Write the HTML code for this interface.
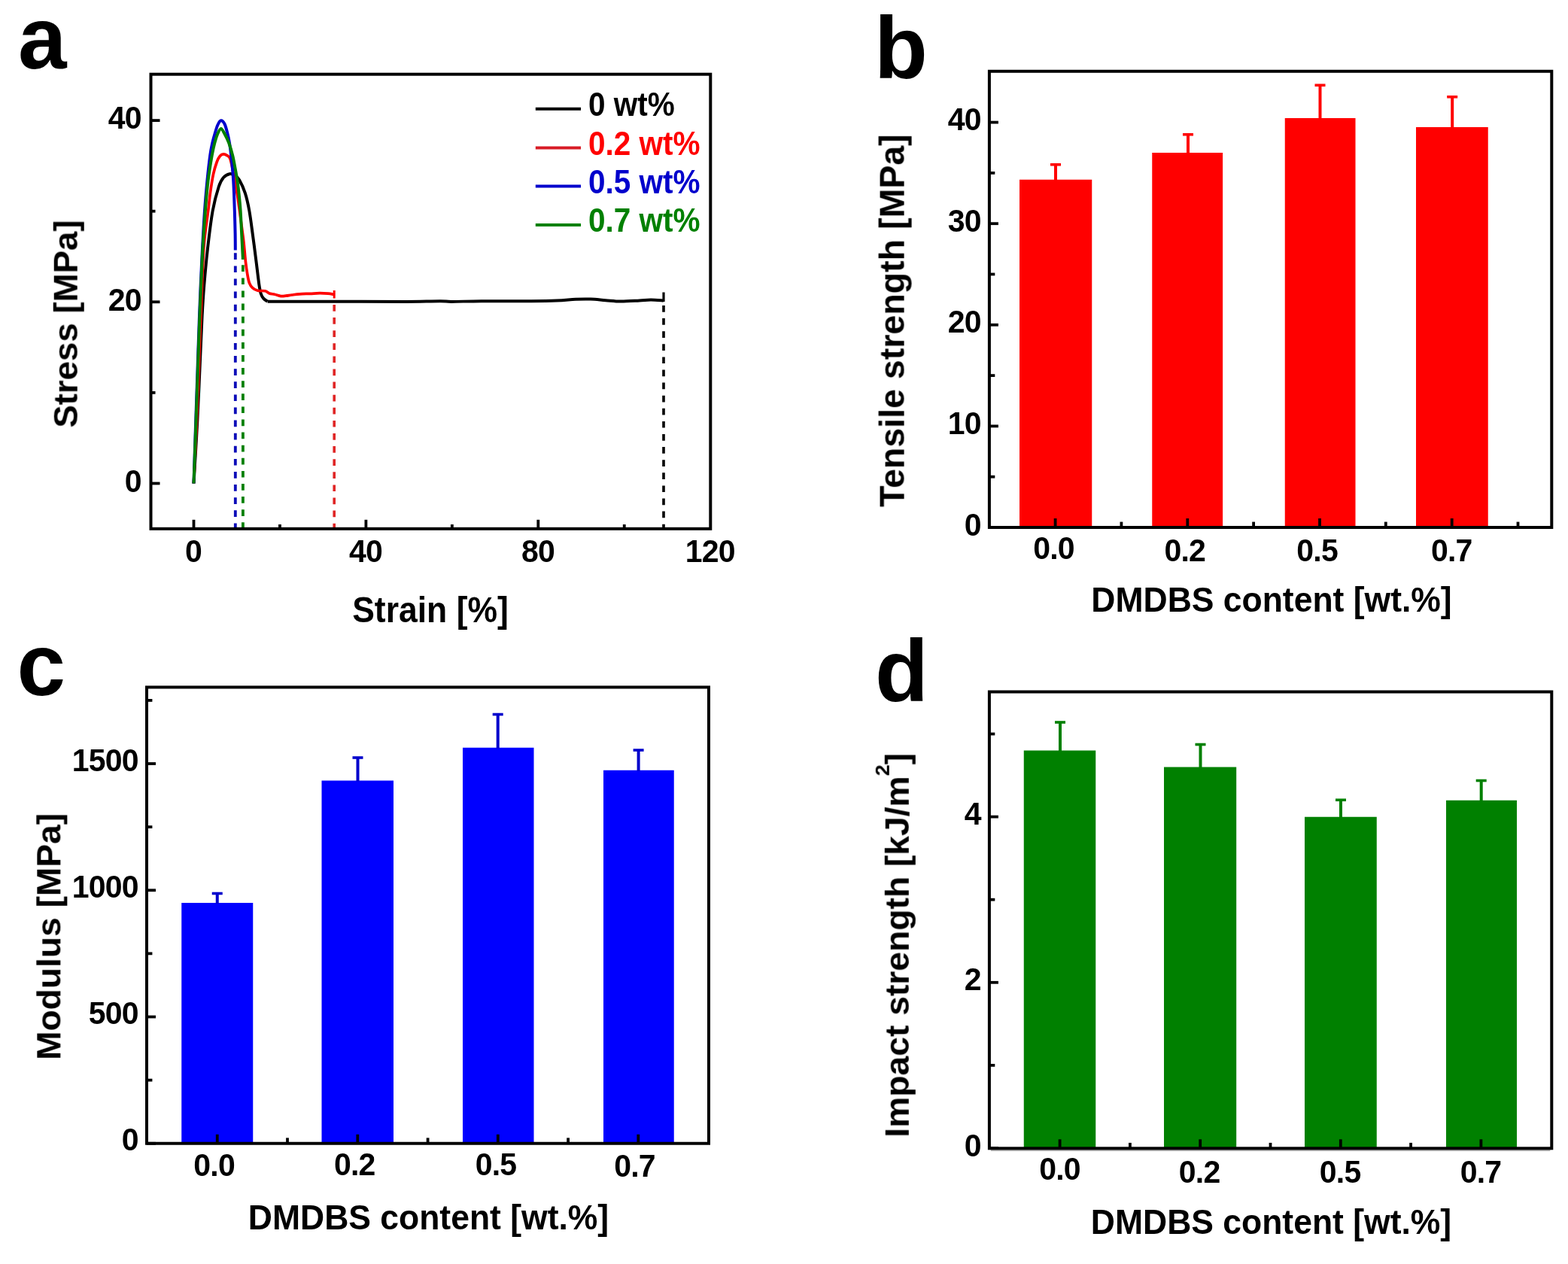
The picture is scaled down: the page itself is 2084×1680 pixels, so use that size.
<!DOCTYPE html>
<html lang="en">
<head>
<meta charset="utf-8">
<title>Mechanical properties vs DMDBS content</title>
<style>
html, body { margin: 0; padding: 0; background: #ffffff; }
body { width: 2084px; height: 1680px; }
svg { display: block; }
svg text { font-family: "Liberation Sans", sans-serif; font-weight: 700; }
</style>
</head>
<body>
<svg width="2084" height="1680" viewBox="0 0 2084 1680" role="img" aria-label="Mechanical properties versus DMDBS content">
<defs>
<filter id="soft" x="0" y="0" width="2084" height="1680" filterUnits="userSpaceOnUse">
<feGaussianBlur stdDeviation="0.55"/>
</filter>
</defs>
<rect x="0" y="0" width="2084" height="1680" fill="#ffffff"/>
<g filter="url(#soft)">
<line x1="200.50" y1="642.50" x2="212.50" y2="642.50" stroke="#000" stroke-width="3.8" />
<text transform="translate(187.70,653.80) scale(1.0,1.045)" font-size="41" text-anchor="end" fill="#000" letter-spacing="-0.8">0</text>
<line x1="200.50" y1="401.30" x2="212.50" y2="401.30" stroke="#000" stroke-width="3.8" />
<text transform="translate(187.70,412.60) scale(1.0,1.045)" font-size="41" text-anchor="end" fill="#000" letter-spacing="-0.8">20</text>
<line x1="200.50" y1="160.10" x2="212.50" y2="160.10" stroke="#000" stroke-width="3.8" />
<text transform="translate(187.70,171.40) scale(1.0,1.045)" font-size="41" text-anchor="end" fill="#000" letter-spacing="-0.8">40</text>
<line x1="200.50" y1="521.90" x2="206.50" y2="521.90" stroke="#000" stroke-width="3.8" />
<line x1="200.50" y1="280.70" x2="206.50" y2="280.70" stroke="#000" stroke-width="3.8" />
<line x1="257.50" y1="702.80" x2="257.50" y2="690.80" stroke="#000" stroke-width="3.8" />
<text transform="translate(257.10,747.40) scale(1.0,1.045)" font-size="41" text-anchor="middle" fill="#000" letter-spacing="-0.8">0</text>
<line x1="486.40" y1="702.80" x2="486.40" y2="690.80" stroke="#000" stroke-width="3.8" />
<text transform="translate(486.00,747.40) scale(1.0,1.045)" font-size="41" text-anchor="middle" fill="#000" letter-spacing="-0.8">40</text>
<line x1="715.30" y1="702.80" x2="715.30" y2="690.80" stroke="#000" stroke-width="3.8" />
<text transform="translate(714.90,747.40) scale(1.0,1.045)" font-size="41" text-anchor="middle" fill="#000" letter-spacing="-0.8">80</text>
<text transform="translate(943.80,747.40) scale(1.0,1.045)" font-size="41" text-anchor="middle" fill="#000" letter-spacing="-0.8">120</text>
<line x1="371.95" y1="702.80" x2="371.95" y2="697.00" stroke="#000" stroke-width="3.8" />
<line x1="600.85" y1="702.80" x2="600.85" y2="697.00" stroke="#000" stroke-width="3.8" />
<line x1="829.75" y1="702.80" x2="829.75" y2="697.00" stroke="#000" stroke-width="3.8" />
<line x1="312.80" y1="336.30" x2="312.80" y2="702.80" stroke="#0808b8" stroke-width="3.8" stroke-dasharray="8.7 8.4"/>
<line x1="322.90" y1="352.30" x2="322.90" y2="702.80" stroke="#008000" stroke-width="3.8" stroke-dasharray="8.7 8.4"/>
<line x1="444.20" y1="405.00" x2="444.20" y2="702.80" stroke="#e02828" stroke-width="3.6" stroke-dasharray="8.7 8.4"/>
<line x1="882.00" y1="406.00" x2="882.00" y2="702.80" stroke="#000" stroke-width="3.6" stroke-dasharray="8.7 8.4"/>
<path d="M257.50,642.50 C258.30,628.75 260.97,585.42 262.30,560.00 C263.63,534.58 264.45,513.33 265.50,490.00 C266.55,466.67 267.65,438.33 268.60,420.00 C269.55,401.67 269.97,395.00 271.20,380.00 C272.43,365.00 274.08,346.67 276.00,330.00 C277.92,313.33 280.23,293.67 282.70,280.00 C285.17,266.33 288.42,255.33 290.80,248.00 C293.18,240.67 294.63,238.80 297.00,236.00 C299.37,233.20 302.50,231.70 305.00,231.20 C307.50,230.70 309.83,231.70 312.00,233.00 C314.17,234.30 315.70,235.05 318.00,239.00 C320.30,242.95 323.58,249.87 325.80,256.70 C328.02,263.53 329.60,270.62 331.30,280.00 C333.00,289.38 334.48,301.88 336.00,313.00 C337.52,324.12 339.02,335.87 340.40,346.70 C341.78,357.53 343.23,370.70 344.30,378.00 C345.37,385.30 345.82,387.40 346.80,390.50 C347.78,393.60 348.73,394.90 350.20,396.60 C351.67,398.30 354.70,400.02 355.60,400.70" fill="none" stroke="#000" stroke-width="4" stroke-linejoin="round"/>
<path d="M355.60,400.70 C363.00,400.72 379.27,400.78 400.00,400.80 C420.73,400.82 456.67,400.78 480.00,400.80 C503.33,400.82 522.50,401.00 540.00,400.90 C557.50,400.80 575.00,400.20 585.00,400.20 C595.00,400.20 590.83,400.90 600.00,400.90 C609.17,400.90 623.33,400.30 640.00,400.20 C656.67,400.10 683.33,400.40 700.00,400.30 C716.67,400.20 729.17,400.02 740.00,399.60 C750.83,399.18 757.50,398.13 765.00,397.80 C772.50,397.47 778.33,397.37 785.00,397.60 C791.67,397.83 798.33,398.70 805.00,399.20 C811.67,399.70 817.50,400.55 825.00,400.60 C832.50,400.65 843.33,399.83 850.00,399.50 C856.67,399.17 859.67,398.60 865.00,398.60 C870.33,398.60 879.17,399.35 882.00,399.50" fill="none" stroke="#000" stroke-width="4" stroke-linejoin="round"/>
<line x1="882.00" y1="388.50" x2="882.00" y2="401.00" stroke="#000" stroke-width="3.2" />
<path d="M257.50,642.50 C258.17,628.75 260.37,585.42 261.50,560.00 C262.63,534.58 263.40,513.33 264.30,490.00 C265.20,466.67 265.82,446.67 266.90,420.00 C267.98,393.33 269.17,353.33 270.80,330.00 C272.43,306.67 275.27,292.22 276.70,280.00 C278.13,267.78 278.27,264.75 279.40,256.70 C280.53,248.65 282.02,238.65 283.50,231.70 C284.98,224.75 286.80,219.08 288.30,215.00 C289.80,210.92 291.05,208.90 292.50,207.20 C293.95,205.50 295.42,204.87 297.00,204.80 C298.58,204.73 300.50,205.68 302.00,206.80 C303.50,207.92 304.57,207.30 306.00,211.50 C307.43,215.70 309.00,223.92 310.60,232.00 C312.20,240.08 313.97,249.50 315.60,260.00 C317.23,270.50 319.02,284.72 320.40,295.00 C321.78,305.28 322.92,313.08 323.90,321.70 C324.88,330.32 325.52,339.77 326.30,346.70 C327.08,353.63 327.77,358.45 328.60,363.30 C329.43,368.15 330.12,372.58 331.30,375.80 C332.48,379.02 333.83,380.87 335.70,382.60 C337.57,384.33 339.70,385.50 342.50,386.20 C345.30,386.90 349.92,386.17 352.50,386.80 C355.08,387.43 355.92,389.25 358.00,390.00 C360.08,390.75 362.45,390.70 365.00,391.30 C367.55,391.90 370.80,393.28 373.30,393.60 C375.80,393.92 377.55,393.47 380.00,393.20 C382.45,392.93 384.95,392.40 388.00,392.00 C391.05,391.60 394.30,391.08 398.30,390.80 C402.30,390.52 407.55,390.48 412.00,390.30 C416.45,390.12 421.00,389.72 425.00,389.70 C429.00,389.68 432.83,389.93 436.00,390.20 C439.17,390.47 442.67,391.12 444.00,391.30" fill="none" stroke="#ff0000" stroke-width="3.7" stroke-linejoin="round"/>
<line x1="444.20" y1="386.00" x2="444.20" y2="396.50" stroke="#ff0000" stroke-width="3.0" />
<path d="M257.50,642.50 C257.95,628.75 259.35,585.42 260.20,560.00 C261.05,534.58 261.80,513.33 262.60,490.00 C263.40,466.67 264.02,445.00 265.00,420.00 C265.98,395.00 267.33,363.33 268.50,340.00 C269.67,316.67 270.85,296.67 272.00,280.00 C273.15,263.33 274.20,252.22 275.40,240.00 C276.60,227.78 278.05,215.03 279.20,206.70 C280.35,198.37 281.23,194.87 282.30,190.00 C283.37,185.13 284.42,181.50 285.60,177.50 C286.78,173.50 288.04,168.87 289.40,166.00 C290.76,163.13 292.22,160.47 293.75,160.30 C295.28,160.13 297.16,162.13 298.60,165.00 C300.04,167.87 301.33,173.33 302.40,177.50 C303.47,181.67 304.20,185.13 305.00,190.00 C305.80,194.87 306.55,201.15 307.20,206.70 C307.85,212.25 308.40,217.75 308.90,223.30 C309.40,228.85 309.85,234.43 310.20,240.00 C310.55,245.57 310.73,250.03 311.00,256.70 C311.27,263.37 311.53,271.12 311.80,280.00 C312.07,288.88 312.43,301.25 312.60,310.00 C312.77,318.75 312.77,328.75 312.80,332.50" fill="none" stroke="#0000cc" stroke-width="4" stroke-linejoin="round"/>
<path d="M257.50,642.50 C258.00,628.75 259.60,585.42 260.50,560.00 C261.40,534.58 262.08,513.33 262.90,490.00 C263.72,466.67 264.40,445.00 265.40,420.00 C266.40,395.00 267.65,363.33 268.90,340.00 C270.15,316.67 271.62,296.67 272.90,280.00 C274.18,263.33 275.13,252.22 276.60,240.00 C278.07,227.78 280.25,215.03 281.70,206.70 C283.15,198.37 284.02,194.87 285.30,190.00 C286.58,185.13 287.99,180.67 289.40,177.50 C290.81,174.33 292.27,171.00 293.75,171.00 C295.23,171.00 296.56,174.33 298.30,177.50 C300.04,180.67 302.38,185.13 304.20,190.00 C306.02,194.87 307.82,201.15 309.20,206.70 C310.58,212.25 311.47,217.75 312.50,223.30 C313.53,228.85 314.57,234.43 315.40,240.00 C316.23,245.57 316.80,250.03 317.50,256.70 C318.20,263.37 318.97,270.57 319.60,280.00 C320.23,289.43 320.75,302.47 321.30,313.30 C321.85,324.13 322.63,339.72 322.90,345.00" fill="none" stroke="#008000" stroke-width="4" stroke-linejoin="round"/>
<rect x="200.50" y="98.70" width="743.80" height="604.10" fill="none" stroke="#000" stroke-width="4.0"/>
<line x1="711.80" y1="144.80" x2="772.00" y2="144.80" stroke="#000" stroke-width="4.0" />
<text transform="translate(782.00,154.00) scale(1.0,1.095)" font-size="40.5" text-anchor="start" fill="#000">0 wt%</text>
<line x1="711.80" y1="196.50" x2="772.00" y2="196.50" stroke="#d81e28" stroke-width="4.0" />
<text transform="translate(782.00,206.30) scale(1.0,1.095)" font-size="40.5" text-anchor="start" fill="#ff0000">0.2 wt%</text>
<line x1="711.80" y1="247.60" x2="772.00" y2="247.60" stroke="#0000cc" stroke-width="4.0" />
<text transform="translate(782.00,257.00) scale(1.0,1.095)" font-size="40.5" text-anchor="start" fill="#0000cc">0.5 wt%</text>
<line x1="711.80" y1="298.90" x2="772.00" y2="298.90" stroke="#008000" stroke-width="4.0" />
<text transform="translate(782.00,308.30) scale(1.0,1.095)" font-size="40.5" text-anchor="start" fill="#008000">0.7 wt%</text>
<text transform="translate(572.00,827.20) scale(1.0,1.09)" font-size="44.5" text-anchor="middle" fill="#000">Strain [%]</text>
<text transform="translate(102.70,430.60) rotate(-90) scale(1.0,0.975)" font-size="45.6" text-anchor="middle" fill="#000">Stress [MPa]</text>
<text transform="translate(24.00,91.00) scale(1.0,1.0)" font-size="116" text-anchor="start" fill="#000">a</text>
<rect x="1355.00" y="238.75" width="96.25" height="462.25" fill="#ff0000"/>
<line x1="1403.00" y1="239.75" x2="1403.00" y2="218.75" stroke="#ff0000" stroke-width="4.0" />
<line x1="1396.00" y1="218.75" x2="1410.00" y2="218.75" stroke="#ff0000" stroke-width="3.6" />
<rect x="1531.25" y="203.00" width="93.85" height="498.00" fill="#ff0000"/>
<line x1="1579.00" y1="204.00" x2="1579.00" y2="178.75" stroke="#ff0000" stroke-width="4.0" />
<line x1="1572.00" y1="178.75" x2="1586.00" y2="178.75" stroke="#ff0000" stroke-width="3.6" />
<rect x="1707.75" y="157.00" width="93.75" height="544.00" fill="#ff0000"/>
<line x1="1754.50" y1="158.00" x2="1754.50" y2="113.25" stroke="#ff0000" stroke-width="4.0" />
<line x1="1747.50" y1="113.25" x2="1761.50" y2="113.25" stroke="#ff0000" stroke-width="3.6" />
<rect x="1882.00" y="169.00" width="95.75" height="532.00" fill="#ff0000"/>
<line x1="1930.20" y1="170.00" x2="1930.20" y2="128.75" stroke="#ff0000" stroke-width="4.0" />
<line x1="1923.20" y1="128.75" x2="1937.20" y2="128.75" stroke="#ff0000" stroke-width="3.6" />
<line x1="1314.90" y1="701.00" x2="1326.90" y2="701.00" stroke="#000" stroke-width="3.8" />
<text transform="translate(1303.70,711.50) scale(1.0,1.045)" font-size="41" text-anchor="end" fill="#000" letter-spacing="-0.8">0</text>
<line x1="1314.90" y1="566.40" x2="1326.90" y2="566.40" stroke="#000" stroke-width="3.8" />
<text transform="translate(1303.70,576.90) scale(1.0,1.045)" font-size="41" text-anchor="end" fill="#000" letter-spacing="-0.8">10</text>
<line x1="1314.90" y1="431.80" x2="1326.90" y2="431.80" stroke="#000" stroke-width="3.8" />
<text transform="translate(1303.70,442.30) scale(1.0,1.045)" font-size="41" text-anchor="end" fill="#000" letter-spacing="-0.8">20</text>
<line x1="1314.90" y1="297.20" x2="1326.90" y2="297.20" stroke="#000" stroke-width="3.8" />
<text transform="translate(1303.70,307.70) scale(1.0,1.045)" font-size="41" text-anchor="end" fill="#000" letter-spacing="-0.8">30</text>
<line x1="1314.90" y1="162.60" x2="1326.90" y2="162.60" stroke="#000" stroke-width="3.8" />
<text transform="translate(1303.70,173.10) scale(1.0,1.045)" font-size="41" text-anchor="end" fill="#000" letter-spacing="-0.8">40</text>
<line x1="1314.90" y1="633.70" x2="1322.30" y2="633.70" stroke="#000" stroke-width="3.8" />
<line x1="1314.90" y1="499.10" x2="1322.30" y2="499.10" stroke="#000" stroke-width="3.8" />
<line x1="1314.90" y1="364.50" x2="1322.30" y2="364.50" stroke="#000" stroke-width="3.8" />
<line x1="1314.90" y1="229.90" x2="1322.30" y2="229.90" stroke="#000" stroke-width="3.8" />
<line x1="1402.60" y1="701.00" x2="1402.60" y2="689.00" stroke="#000" stroke-width="3.8" />
<text transform="translate(1400.50,743.30) scale(1.0,1.045)" font-size="41" text-anchor="middle" fill="#000" letter-spacing="-0.8">0.0</text>
<line x1="1578.30" y1="701.00" x2="1578.30" y2="689.00" stroke="#000" stroke-width="3.8" />
<text transform="translate(1574.70,745.50) scale(1.0,1.045)" font-size="41" text-anchor="middle" fill="#000" letter-spacing="-0.8">0.2</text>
<line x1="1754.00" y1="701.00" x2="1754.00" y2="689.00" stroke="#000" stroke-width="3.8" />
<text transform="translate(1750.60,745.50) scale(1.0,1.045)" font-size="41" text-anchor="middle" fill="#000" letter-spacing="-0.8">0.5</text>
<line x1="1929.70" y1="701.00" x2="1929.70" y2="689.00" stroke="#000" stroke-width="3.8" />
<text transform="translate(1929.30,745.50) scale(1.0,1.045)" font-size="41" text-anchor="middle" fill="#000" letter-spacing="-0.8">0.7</text>
<line x1="1490.40" y1="701.00" x2="1490.40" y2="693.60" stroke="#000" stroke-width="3.8" />
<line x1="1666.10" y1="701.00" x2="1666.10" y2="693.60" stroke="#000" stroke-width="3.8" />
<line x1="1841.80" y1="701.00" x2="1841.80" y2="693.60" stroke="#000" stroke-width="3.8" />
<line x1="2017.50" y1="701.00" x2="2017.50" y2="693.60" stroke="#000" stroke-width="3.8" />
<rect x="1314.90" y="94.75" width="747.40" height="606.25" fill="none" stroke="#000" stroke-width="4.0"/>
<text transform="translate(1690.00,813.00) scale(1.0,1.04)" font-size="44.5" text-anchor="middle" fill="#000">DMDBS content [wt.%]</text>
<text transform="translate(1201.50,426.20) rotate(-90) scale(1.0,0.975)" font-size="46.55" text-anchor="middle" fill="#000">Tensile strength [MPa]</text>
<text transform="translate(1162.00,103.50) scale(1.0,1.0)" font-size="116" text-anchor="start" fill="#000">b</text>
<rect x="241.25" y="1200.00" width="95.00" height="319.75" fill="#0000ff"/>
<line x1="288.75" y1="1201.00" x2="288.75" y2="1187.50" stroke="#0000cc" stroke-width="4.0" />
<line x1="281.75" y1="1187.50" x2="295.75" y2="1187.50" stroke="#0000cc" stroke-width="3.6" />
<rect x="427.50" y="1037.50" width="95.50" height="482.25" fill="#0000ff"/>
<line x1="475.50" y1="1038.50" x2="475.50" y2="1007.00" stroke="#0000cc" stroke-width="4.0" />
<line x1="468.50" y1="1007.00" x2="482.50" y2="1007.00" stroke="#0000cc" stroke-width="3.6" />
<rect x="615.00" y="993.75" width="94.50" height="526.00" fill="#0000ff"/>
<line x1="661.70" y1="994.75" x2="661.70" y2="949.50" stroke="#0000cc" stroke-width="4.0" />
<line x1="654.70" y1="949.50" x2="668.70" y2="949.50" stroke="#0000cc" stroke-width="3.6" />
<rect x="802.00" y="1023.75" width="93.75" height="496.00" fill="#0000ff"/>
<line x1="848.60" y1="1024.75" x2="848.60" y2="997.00" stroke="#0000cc" stroke-width="4.0" />
<line x1="841.60" y1="997.00" x2="855.60" y2="997.00" stroke="#0000cc" stroke-width="3.6" />
<line x1="195.00" y1="1519.75" x2="207.00" y2="1519.75" stroke="#000" stroke-width="3.8" />
<text transform="translate(183.70,1529.35) scale(1.0,1.045)" font-size="41" text-anchor="end" fill="#000" letter-spacing="-0.8">0</text>
<line x1="195.00" y1="1351.50" x2="207.00" y2="1351.50" stroke="#000" stroke-width="3.8" />
<text transform="translate(183.70,1361.10) scale(1.0,1.045)" font-size="41" text-anchor="end" fill="#000" letter-spacing="-0.8">500</text>
<line x1="195.00" y1="1183.25" x2="207.00" y2="1183.25" stroke="#000" stroke-width="3.8" />
<text transform="translate(183.70,1192.85) scale(1.0,1.045)" font-size="41" text-anchor="end" fill="#000" letter-spacing="-0.8">1000</text>
<line x1="195.00" y1="1015.00" x2="207.00" y2="1015.00" stroke="#000" stroke-width="3.8" />
<text transform="translate(183.70,1024.60) scale(1.0,1.045)" font-size="41" text-anchor="end" fill="#000" letter-spacing="-0.8">1500</text>
<line x1="195.00" y1="1435.62" x2="202.40" y2="1435.62" stroke="#000" stroke-width="3.8" />
<line x1="195.00" y1="1267.38" x2="202.40" y2="1267.38" stroke="#000" stroke-width="3.8" />
<line x1="195.00" y1="1099.12" x2="202.40" y2="1099.12" stroke="#000" stroke-width="3.8" />
<line x1="195.00" y1="930.88" x2="202.40" y2="930.88" stroke="#000" stroke-width="3.8" />
<line x1="288.75" y1="1519.75" x2="288.75" y2="1507.75" stroke="#000" stroke-width="3.8" />
<text transform="translate(284.65,1563.40) scale(1.0,1.045)" font-size="41" text-anchor="middle" fill="#000" letter-spacing="-0.8">0.0</text>
<line x1="475.30" y1="1519.75" x2="475.30" y2="1507.75" stroke="#000" stroke-width="3.8" />
<text transform="translate(471.20,1562.20) scale(1.0,1.045)" font-size="41" text-anchor="middle" fill="#000" letter-spacing="-0.8">0.2</text>
<line x1="661.80" y1="1519.75" x2="661.80" y2="1507.75" stroke="#000" stroke-width="3.8" />
<text transform="translate(659.00,1562.20) scale(1.0,1.045)" font-size="41" text-anchor="middle" fill="#000" letter-spacing="-0.8">0.5</text>
<line x1="848.30" y1="1519.75" x2="848.30" y2="1507.75" stroke="#000" stroke-width="3.8" />
<text transform="translate(843.50,1563.70) scale(1.0,1.045)" font-size="41" text-anchor="middle" fill="#000" letter-spacing="-0.8">0.7</text>
<line x1="382.00" y1="1519.75" x2="382.00" y2="1512.35" stroke="#000" stroke-width="3.8" />
<line x1="568.60" y1="1519.75" x2="568.60" y2="1512.35" stroke="#000" stroke-width="3.8" />
<line x1="755.10" y1="1519.75" x2="755.10" y2="1512.35" stroke="#000" stroke-width="3.8" />
<rect x="195.00" y="913.40" width="747.00" height="606.35" fill="none" stroke="#000" stroke-width="4.0"/>
<text transform="translate(569.50,1634.00) scale(1.0,1.04)" font-size="44.5" text-anchor="middle" fill="#000">DMDBS content [wt.%]</text>
<text transform="translate(80.30,1244.90) rotate(-90) scale(1.0,0.975)" font-size="46.15" text-anchor="middle" fill="#000">Modulus [MPa]</text>
<text transform="translate(22.50,923.50) scale(1.0,1.0)" font-size="116" text-anchor="start" fill="#000">c</text>
<line x1="1316.90" y1="1529.00" x2="2060.30" y2="1529.00" stroke="#9c9c9c" stroke-width="1.6" />
<rect x="1360.75" y="997.50" width="95.50" height="528.80" fill="#008000"/>
<line x1="1409.00" y1="998.50" x2="1409.00" y2="960.00" stroke="#008000" stroke-width="4.0" />
<line x1="1402.00" y1="960.00" x2="1416.00" y2="960.00" stroke="#008000" stroke-width="3.6" />
<rect x="1547.00" y="1019.50" width="96.20" height="506.80" fill="#008000"/>
<line x1="1595.50" y1="1020.50" x2="1595.50" y2="989.50" stroke="#008000" stroke-width="4.0" />
<line x1="1588.50" y1="989.50" x2="1602.50" y2="989.50" stroke="#008000" stroke-width="3.6" />
<rect x="1734.00" y="1085.75" width="95.75" height="440.55" fill="#008000"/>
<line x1="1782.00" y1="1086.75" x2="1782.00" y2="1063.25" stroke="#008000" stroke-width="4.0" />
<line x1="1775.00" y1="1063.25" x2="1789.00" y2="1063.25" stroke="#008000" stroke-width="3.6" />
<rect x="1922.00" y="1063.75" width="94.00" height="462.55" fill="#008000"/>
<line x1="1968.70" y1="1064.75" x2="1968.70" y2="1037.50" stroke="#008000" stroke-width="4.0" />
<line x1="1961.70" y1="1037.50" x2="1975.70" y2="1037.50" stroke="#008000" stroke-width="3.6" />
<line x1="1314.90" y1="1526.00" x2="1326.90" y2="1526.00" stroke="#000" stroke-width="3.8" />
<text transform="translate(1303.70,1536.50) scale(1.0,1.045)" font-size="41" text-anchor="end" fill="#000" letter-spacing="-0.8">0</text>
<line x1="1314.90" y1="1305.80" x2="1326.90" y2="1305.80" stroke="#000" stroke-width="3.8" />
<text transform="translate(1303.70,1316.30) scale(1.0,1.045)" font-size="41" text-anchor="end" fill="#000" letter-spacing="-0.8">2</text>
<line x1="1314.90" y1="1085.60" x2="1326.90" y2="1085.60" stroke="#000" stroke-width="3.8" />
<text transform="translate(1303.70,1096.10) scale(1.0,1.045)" font-size="41" text-anchor="end" fill="#000" letter-spacing="-0.8">4</text>
<line x1="1314.90" y1="1415.90" x2="1322.30" y2="1415.90" stroke="#000" stroke-width="3.8" />
<line x1="1314.90" y1="1195.70" x2="1322.30" y2="1195.70" stroke="#000" stroke-width="3.8" />
<line x1="1314.90" y1="975.50" x2="1322.30" y2="975.50" stroke="#000" stroke-width="3.8" />
<line x1="1408.60" y1="1526.30" x2="1408.60" y2="1514.30" stroke="#000" stroke-width="3.8" />
<text transform="translate(1408.50,1568.40) scale(1.0,1.045)" font-size="41" text-anchor="middle" fill="#000" letter-spacing="-0.8">0.0</text>
<line x1="1595.20" y1="1526.30" x2="1595.20" y2="1514.30" stroke="#000" stroke-width="3.8" />
<text transform="translate(1594.10,1571.70) scale(1.0,1.045)" font-size="41" text-anchor="middle" fill="#000" letter-spacing="-0.8">0.2</text>
<line x1="1781.80" y1="1526.30" x2="1781.80" y2="1514.30" stroke="#000" stroke-width="3.8" />
<text transform="translate(1781.10,1571.70) scale(1.0,1.045)" font-size="41" text-anchor="middle" fill="#000" letter-spacing="-0.8">0.5</text>
<line x1="1968.40" y1="1526.30" x2="1968.40" y2="1514.30" stroke="#000" stroke-width="3.8" />
<text transform="translate(1968.00,1571.70) scale(1.0,1.045)" font-size="41" text-anchor="middle" fill="#000" letter-spacing="-0.8">0.7</text>
<line x1="1501.90" y1="1526.30" x2="1501.90" y2="1518.90" stroke="#000" stroke-width="3.8" />
<line x1="1688.50" y1="1526.30" x2="1688.50" y2="1518.90" stroke="#000" stroke-width="3.8" />
<line x1="1875.10" y1="1526.30" x2="1875.10" y2="1518.90" stroke="#000" stroke-width="3.8" />
<rect x="1314.90" y="919.50" width="747.40" height="606.80" fill="none" stroke="#000" stroke-width="4.0"/>
<text transform="translate(1689.50,1640.00) scale(1.0,1.04)" font-size="44.5" text-anchor="middle" fill="#000">DMDBS content [wt.%]</text>
<text transform="translate(1207.50,1256.30) rotate(-90) scale(1.0,0.975)" font-size="46.25" text-anchor="middle" fill="#000">Impact strength [kJ/m<tspan font-size="27" dy="-26">2</tspan><tspan dy="26">]</tspan></text>
<text transform="translate(1163.00,932.20) scale(1.0,1.0)" font-size="116" text-anchor="start" fill="#000">d</text>
</g>
</svg>
</body>
</html>
